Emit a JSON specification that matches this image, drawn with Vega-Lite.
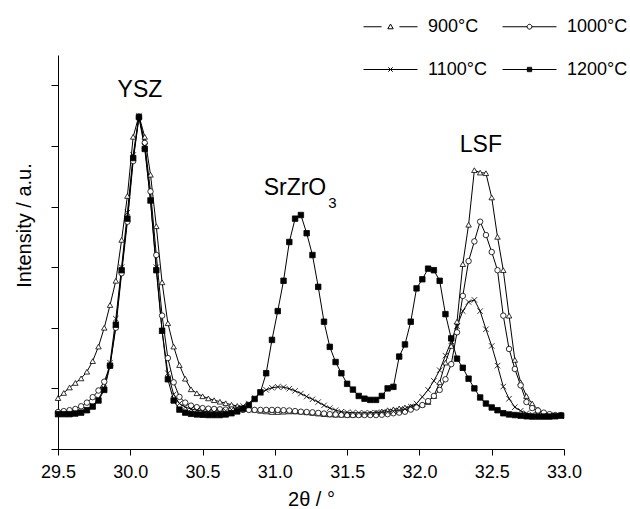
{
  "$schema": "https://vega.github.io/schema/vega-lite/v6.json",
  "width": 506,
  "height": 394,
  "autosize": {"type": "none"},
  "padding": {"left": 58, "top": 55, "right": 66, "bottom": 60},
  "background": "white",
  "config": {
    "view": {"stroke": null},
    "font": "Liberation Sans",
    "axis": {
      "domainColor": "black",
      "tickColor": "black",
      "labelColor": "black",
      "titleColor": "black",
      "grid": false,
      "titleFontWeight": "normal",
      "labelFont": "Liberation Sans",
      "titleFont": "Liberation Sans"
    }
  },
  "datasets": {
    "xrd": [
      {"angle": 29.50, "900°C": 1.68, "1000°C": 1.22, "1100°C": 1.15, "1200°C": 1.15},
      {"angle": 29.54, "900°C": 1.85, "1000°C": 1.25, "1100°C": 1.15, "1200°C": 1.15},
      {"angle": 29.58, "900°C": 2.03, "1000°C": 1.28, "1100°C": 1.16, "1200°C": 1.15},
      {"angle": 29.62, "900°C": 2.18, "1000°C": 1.32, "1100°C": 1.18, "1200°C": 1.17},
      {"angle": 29.66, "900°C": 2.33, "1000°C": 1.41, "1100°C": 1.22, "1200°C": 1.2},
      {"angle": 29.70, "900°C": 2.55, "1000°C": 1.53, "1100°C": 1.3, "1200°C": 1.28},
      {"angle": 29.74, "900°C": 2.9, "1000°C": 1.71, "1100°C": 1.43, "1200°C": 1.4},
      {"angle": 29.78, "900°C": 3.38, "1000°C": 1.93, "1100°C": 1.65, "1200°C": 1.6},
      {"angle": 29.82, "900°C": 4.0, "1000°C": 2.22, "1100°C": 2.0, "1200°C": 1.95},
      {"angle": 29.86, "900°C": 4.75, "1000°C": 2.75, "1100°C": 2.85, "1200°C": 2.75},
      {"angle": 29.90, "900°C": 5.55, "1000°C": 4.0, "1100°C": 4.3, "1200°C": 4.1},
      {"angle": 29.94, "900°C": 6.9, "1000°C": 5.8, "1100°C": 6.0, "1200°C": 5.9},
      {"angle": 29.98, "900°C": 8.35, "1000°C": 7.5, "1100°C": 7.8, "1200°C": 7.6},
      {"angle": 30.02, "900°C": 10.3, "1000°C": 9.5, "1100°C": 9.7, "1200°C": 9.6},
      {"angle": 30.06, "900°C": 11.0, "1000°C": 10.95, "1100°C": 11.0, "1200°C": 10.95},
      {"angle": 30.10, "900°C": 10.3, "1000°C": 10.1, "1100°C": 10.0, "1200°C": 9.9},
      {"angle": 30.14, "900°C": 9.05, "1000°C": 8.5, "1100°C": 8.2, "1200°C": 8.2},
      {"angle": 30.18, "900°C": 7.35, "1000°C": 6.4, "1100°C": 6.0, "1200°C": 5.9},
      {"angle": 30.22, "900°C": 5.5, "1000°C": 4.4, "1100°C": 3.9, "1200°C": 3.9},
      {"angle": 30.26, "900°C": 4.15, "1000°C": 3.0, "1100°C": 2.5, "1200°C": 2.3},
      {"angle": 30.30, "900°C": 3.38, "1000°C": 2.2, "1100°C": 1.8, "1200°C": 1.6},
      {"angle": 30.34, "900°C": 2.77, "1000°C": 1.72, "1100°C": 1.5, "1200°C": 1.3},
      {"angle": 30.38, "900°C": 2.32, "1000°C": 1.53, "1100°C": 1.38, "1200°C": 1.2},
      {"angle": 30.42, "900°C": 1.97, "1000°C": 1.43, "1100°C": 1.32, "1200°C": 1.16},
      {"angle": 30.46, "900°C": 1.84, "1000°C": 1.38, "1100°C": 1.28, "1200°C": 1.14},
      {"angle": 30.50, "900°C": 1.74, "1000°C": 1.35, "1100°C": 1.25, "1200°C": 1.13},
      {"angle": 30.54, "900°C": 1.67, "1000°C": 1.33, "1100°C": 1.23, "1200°C": 1.12},
      {"angle": 30.58, "900°C": 1.61, "1000°C": 1.32, "1100°C": 1.22, "1200°C": 1.12},
      {"angle": 30.62, "900°C": 1.56, "1000°C": 1.31, "1100°C": 1.23, "1200°C": 1.12},
      {"angle": 30.66, "900°C": 1.51, "1000°C": 1.3, "1100°C": 1.26, "1200°C": 1.14},
      {"angle": 30.70, "900°C": 1.46, "1000°C": 1.3, "1100°C": 1.3, "1200°C": 1.18},
      {"angle": 30.74, "900°C": 1.42, "1000°C": 1.29, "1100°C": 1.36, "1200°C": 1.24},
      {"angle": 30.78, "900°C": 1.37, "1000°C": 1.29, "1100°C": 1.42, "1200°C": 1.33},
      {"angle": 30.82, "900°C": 1.33, "1000°C": 1.29, "1100°C": 1.5, "1200°C": 1.45},
      {"angle": 30.86, "900°C": 1.29, "1000°C": 1.29, "1100°C": 1.68, "1200°C": 1.65},
      {"angle": 30.90, "900°C": 1.26, "1000°C": 1.29, "1100°C": 1.86, "1200°C": 1.87},
      {"angle": 30.94, "900°C": 1.24, "1000°C": 1.29, "1100°C": 1.95, "1200°C": 2.5},
      {"angle": 30.98, "900°C": 1.22, "1000°C": 1.29, "1100°C": 2.02, "1200°C": 3.6},
      {"angle": 31.02, "900°C": 1.22, "1000°C": 1.29, "1100°C": 2.05, "1200°C": 4.55},
      {"angle": 31.06, "900°C": 1.23, "1000°C": 1.28, "1100°C": 2.04, "1200°C": 5.55},
      {"angle": 31.10, "900°C": 1.24, "1000°C": 1.27, "1100°C": 1.99, "1200°C": 6.83},
      {"angle": 31.14, "900°C": 1.24, "1000°C": 1.25, "1100°C": 1.92, "1200°C": 7.6},
      {"angle": 31.18, "900°C": 1.23, "1000°C": 1.23, "1100°C": 1.83, "1200°C": 7.72},
      {"angle": 31.22, "900°C": 1.21, "1000°C": 1.22, "1100°C": 1.73, "1200°C": 7.12},
      {"angle": 31.26, "900°C": 1.19, "1000°C": 1.21, "1100°C": 1.64, "1200°C": 6.4},
      {"angle": 31.30, "900°C": 1.17, "1000°C": 1.19, "1100°C": 1.55, "1200°C": 5.35},
      {"angle": 31.34, "900°C": 1.15, "1000°C": 1.17, "1100°C": 1.44, "1200°C": 4.2},
      {"angle": 31.38, "900°C": 1.14, "1000°C": 1.15, "1100°C": 1.35, "1200°C": 3.37},
      {"angle": 31.42, "900°C": 1.13, "1000°C": 1.14, "1100°C": 1.28, "1200°C": 2.87},
      {"angle": 31.46, "900°C": 1.13, "1000°C": 1.13, "1100°C": 1.23, "1200°C": 2.5},
      {"angle": 31.50, "900°C": 1.13, "1000°C": 1.12, "1100°C": 1.21, "1200°C": 2.15},
      {"angle": 31.54, "900°C": 1.13, "1000°C": 1.12, "1100°C": 1.2, "1200°C": 1.96},
      {"angle": 31.58, "900°C": 1.14, "1000°C": 1.12, "1100°C": 1.19, "1200°C": 1.75},
      {"angle": 31.62, "900°C": 1.15, "1000°C": 1.12, "1100°C": 1.19, "1200°C": 1.66},
      {"angle": 31.66, "900°C": 1.17, "1000°C": 1.12, "1100°C": 1.19, "1200°C": 1.62},
      {"angle": 31.70, "900°C": 1.2, "1000°C": 1.12, "1100°C": 1.2, "1200°C": 1.62},
      {"angle": 31.74, "900°C": 1.24, "1000°C": 1.13, "1100°C": 1.21, "1200°C": 1.75},
      {"angle": 31.78, "900°C": 1.28, "1000°C": 1.15, "1100°C": 1.22, "1200°C": 2.0},
      {"angle": 31.82, "900°C": 1.31, "1000°C": 1.18, "1100°C": 1.24, "1200°C": 2.05},
      {"angle": 31.86, "900°C": 1.34, "1000°C": 1.2, "1100°C": 1.27, "1200°C": 3.05},
      {"angle": 31.90, "900°C": 1.37, "1000°C": 1.23, "1100°C": 1.32, "1200°C": 3.45},
      {"angle": 31.94, "900°C": 1.4, "1000°C": 1.3, "1100°C": 1.4, "1200°C": 4.2},
      {"angle": 31.98, "900°C": 1.42, "1000°C": 1.37, "1100°C": 1.5, "1200°C": 5.3},
      {"angle": 32.02, "900°C": 1.47, "1000°C": 1.45, "1100°C": 1.72, "1200°C": 5.6},
      {"angle": 32.06, "900°C": 1.55, "1000°C": 1.58, "1100°C": 1.95, "1200°C": 5.95},
      {"angle": 32.10, "900°C": 1.75, "1000°C": 1.75, "1100°C": 2.25, "1200°C": 5.9},
      {"angle": 32.14, "900°C": 2.2, "1000°C": 1.95, "1100°C": 2.6, "1200°C": 5.55},
      {"angle": 32.18, "900°C": 2.85, "1000°C": 2.3, "1100°C": 3.08, "1200°C": 4.45},
      {"angle": 32.22, "900°C": 3.4, "1000°C": 2.8, "1100°C": 3.55, "1200°C": 3.65},
      {"angle": 32.26, "900°C": 4.2, "1000°C": 3.85, "1100°C": 4.05, "1200°C": 2.98},
      {"angle": 32.30, "900°C": 6.1, "1000°C": 5.05, "1100°C": 4.55, "1200°C": 2.68},
      {"angle": 32.34, "900°C": 7.4, "1000°C": 6.2, "1100°C": 4.85, "1200°C": 2.32},
      {"angle": 32.38, "900°C": 9.2, "1000°C": 6.85, "1100°C": 4.92, "1200°C": 2.0},
      {"angle": 32.42, "900°C": 9.12, "1000°C": 7.5, "1100°C": 4.55, "1200°C": 1.7},
      {"angle": 32.46, "900°C": 9.1, "1000°C": 7.06, "1100°C": 3.95, "1200°C": 1.5},
      {"angle": 32.50, "900°C": 8.3, "1000°C": 6.5, "1100°C": 3.4, "1200°C": 1.37},
      {"angle": 32.54, "900°C": 7.0, "1000°C": 5.9, "1100°C": 2.75, "1200°C": 1.28},
      {"angle": 32.58, "900°C": 5.9, "1000°C": 4.4, "1100°C": 2.06, "1200°C": 1.18},
      {"angle": 32.62, "900°C": 4.4, "1000°C": 3.3, "1100°C": 1.66, "1200°C": 1.14},
      {"angle": 32.66, "900°C": 2.94, "1000°C": 2.64, "1100°C": 1.38, "1200°C": 1.12},
      {"angle": 32.70, "900°C": 2.2, "1000°C": 2.1, "1100°C": 1.26, "1200°C": 1.1},
      {"angle": 32.74, "900°C": 1.75, "1000°C": 1.55, "1100°C": 1.18, "1200°C": 1.08},
      {"angle": 32.78, "900°C": 1.5, "1000°C": 1.35, "1100°C": 1.14, "1200°C": 1.07},
      {"angle": 32.82, "900°C": 1.3, "1000°C": 1.27, "1100°C": 1.12, "1200°C": 1.07},
      {"angle": 32.86, "900°C": 1.18, "1000°C": 1.2, "1100°C": 1.1, "1200°C": 1.07},
      {"angle": 32.90, "900°C": 1.12, "1000°C": 1.15, "1100°C": 1.1, "1200°C": 1.07},
      {"angle": 32.94, "900°C": 1.12, "1000°C": 1.12, "1100°C": 1.1, "1200°C": 1.08},
      {"angle": 32.98, "900°C": 1.12, "1000°C": 1.12, "1100°C": 1.1, "1200°C": 1.1}
    ],
    "entries": [
      {"entry": "900°C"},
      {"entry": "1000°C"},
      {"entry": "1100°C"},
      {"entry": "1200°C"}
    ],
    "phases": [
      {"phase": "YSZ", "angle": 30.067, "intensity": 11.84},
      {"phase": "SrZrO", "angle": 31.139, "intensity": 8.61},
      {"phase": "LSF", "angle": 32.425, "intensity": 10.03}
    ],
    "subscripts": [
      {"phase": "3", "angle": 31.398, "intensity": 8.13}
    ]
  },
  "layer": [
    {
      "data": {"name": "xrd"},
      "transform": [
        {"fold": ["900°C", "1000°C", "1100°C", "1200°C"], "as": ["series", "intensity"]}
      ],
      "mark": {"type": "line", "stroke": "black", "strokeWidth": 1},
      "encoding": {
        "x": {
          "field": "angle",
          "type": "quantitative",
          "scale": {"domain": [29.5, 33.0], "nice": false, "zero": false},
          "axis": {
            "title": "2θ / °",
            "values": [29.5, 29.75, 30.0, 30.25, 30.5, 30.75, 31.0, 31.25, 31.5, 31.75, 32.0, 32.25, 32.5, 32.75, 33.0],
            "labelExpr": "datum.value % 0.5 === 0 ? format(datum.value, '.1f') : ''",
            "labelOverlap": false,
            "labelFlush": false,
            "labelFontSize": 18,
            "labelPadding": 8,
            "tickSize": {"condition": {"test": "datum.value % 0.5 === 0", "value": 6}, "value": 4},
            "titleFontSize": 20,
            "titlePadding": 8
          }
        },
        "y": {
          "field": "intensity",
          "type": "quantitative",
          "scale": {"domain": [0, 13], "nice": false},
          "axis": {
            "title": "Intensity / a.u.",
            "values": [0, 1, 2, 3, 4, 5, 6, 7, 8, 9, 10, 11, 12, 13],
            "labels": false,
            "tickSize": 7,
            "titleFontSize": 20,
            "titlePadding": 16,
            "titleY": 170
          }
        },
        "detail": {"field": "series"}
      }
    },
    {
      "data": {"name": "xrd"},
      "transform": [
        {"fold": ["900°C", "1000°C", "1100°C", "1200°C"], "as": ["series", "intensity"]}
      ],
      "mark": {"type": "point", "filled": true, "stroke": "black", "strokeWidth": 0.8, "size": 30, "opacity": 1},
      "encoding": {
        "x": {"field": "angle", "type": "quantitative"},
        "y": {"field": "intensity", "type": "quantitative"},
        "shape": {
          "field": "series",
          "scale": {
            "domain": ["900°C", "1000°C", "1100°C", "1200°C"],
            "range": ["triangle-up", "circle", "M-1,-1L1,1M-1,1L1,-1", "square"]
          },
          "legend": null
        },
        "fill": {
          "field": "series",
          "scale": {
            "domain": ["900°C", "1000°C", "1100°C", "1200°C"],
            "range": ["white", "white", "white", "black"]
          },
          "legend": null
        }
      }
    },
    {
      "data": {"name": "entries"},
      "mark": {"type": "point", "filled": false, "color": "black", "stroke": "black", "strokeWidth": 1, "size": 2916, "opacity": 0},
      "encoding": {
        "shape": {
          "field": "entry",
          "sort": null,
          "scale": {
            "domain": ["900°C", "1000°C", "1100°C", "1200°C"],
            "range": [
              "M-1,0L-0.33,0M0.33,0L1,0M0,-0.1L0.1,0.075L-0.1,0.075Z",
              "M-1,0L-0.09,0M0.09,0L1,0M0.09,0L0.078,0.045L0.045,0.078L0,0.09L-0.045,0.078L-0.078,0.045L-0.09,0L-0.078,-0.045L-0.045,-0.078L0,-0.09L0.045,-0.078L0.078,-0.045Z",
              "M-1,0L1,0M-0.08,-0.08L0.08,0.08M-0.08,0.08L0.08,-0.08",
              "M-1,0L1,0M-0.08,-0.08L0.08,-0.08L0.08,0.08L-0.08,0.08ZM-0.08,-0.04L0.08,-0.04M-0.08,0.04L0.08,0.04"
            ]
          },
          "legend": {
            "title": null,
            "orient": "none",
            "direction": "horizontal",
            "legendX": 305,
            "legendY": -56,
            "columns": 2,
            "columnPadding": 13,
            "rowPadding": 6,
            "padding": 0,
            "symbolSize": 2916,
            "symbolStrokeWidth": 1,
            "symbolStrokeColor": "black",
            "symbolOpacity": 1,
            "labelFont": "Liberation Sans",
            "labelFontSize": 18,
            "labelColor": "black",
            "labelOffset": 10,
            "encode": {
              "symbols": {
                "update": {
                  "stroke": {"value": "black"},
                  "opacity": {"value": 1}
                }
              }
            }
          }
        }
      }
    },
    {
      "data": {"name": "phases"},
      "mark": {"type": "text", "fontSize": 23, "font": "Liberation Sans", "color": "black", "baseline": "middle", "align": "center"},
      "encoding": {
        "x": {"field": "angle", "type": "quantitative"},
        "y": {"field": "intensity", "type": "quantitative"},
        "text": {"field": "phase"}
      }
    },
    {
      "data": {"name": "subscripts"},
      "mark": {"type": "text", "fontSize": 15, "font": "Liberation Sans", "color": "black", "baseline": "middle", "align": "center"},
      "encoding": {
        "x": {"field": "angle", "type": "quantitative"},
        "y": {"field": "intensity", "type": "quantitative"},
        "text": {"field": "phase"}
      }
    }
  ],
  "resolve": {
    "scale": {"shape": "independent", "fill": "independent"},
    "legend": {"shape": "independent", "fill": "independent"}
  }
}
